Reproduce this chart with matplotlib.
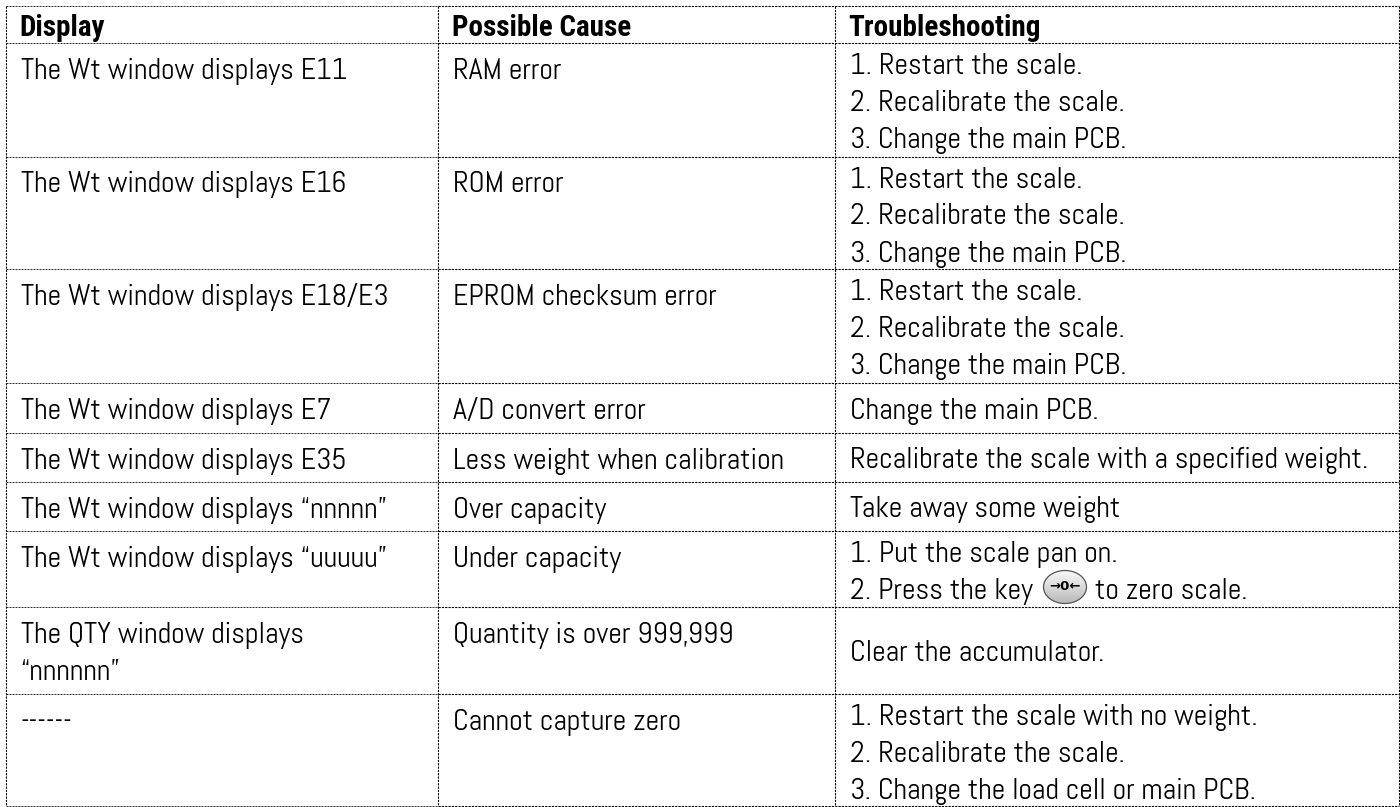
import numpy as np
import matplotlib
matplotlib.use("Agg")
import matplotlib.pyplot as plt
from matplotlib.patches import Ellipse

plt.rcParams['font.family'] = ['Abel', 'Lato', 'DejaVu Sans']

headers = ["Display", "Possible Cause", "Troubleshooting"]

display = [
    ["The Wt window displays E11"],
    ["The Wt window displays E16"],
    ["The Wt window displays E18/E3"],
    ["The Wt window displays E7"],
    ["The Wt window displays E35"],
    ["The Wt window displays “nnnnn”"],
    ["The Wt window displays “uuuuu”"],
    ["The QTY window displays", "“nnnnnn”"],
    ["------"],
]
causes = [
    "RAM error",
    "ROM error",
    "EPROM checksum error",
    "A/D convert error",
    "Less weight when calibration",
    "Over capacity",
    "Under capacity",
    "Quantity is over 999,999",
    "Cannot capture zero",
]
fixes = [
    ["1. Restart the scale.", "2. Recalibrate the scale.", "3. Change the main PCB."],
    ["1. Restart the scale.", "2. Recalibrate the scale.", "3. Change the main PCB."],
    ["1. Restart the scale.", "2. Recalibrate the scale.", "3. Change the main PCB."],
    ["Change the main PCB."],
    ["Recalibrate the scale with a specified weight."],
    ["Take away some weight"],
    ["1. Put the scale pan on.", "2. Press the key"],
    ["Clear the accumulator."],
    ["1. Restart the scale with no weight.", "2. Recalibrate the scale.", "3. Change the load cell or main PCB."],
]

# pixel layout of the grid
col_x = [6, 437.5, 835, 1398.5]
row_y = [5.5, 43, 156.5, 269, 382.7, 433, 481.7, 530.7, 607, 693.7, 806]
text_x = [21, 453, 850]
line_h = 37
font_pt = 21.5
ink = '#000000'

fig = plt.figure(figsize=(14, 8.07), dpi=100)
ax = fig.add_axes([0, 0, 1, 1])
ax.set_xlim(0, 1400)
ax.set_ylim(807, 0)
ax.axis('off')

dots = (0, (2, 1))
for y in row_y:
    ax.plot([col_x[0], col_x[1]], [y, y], color='#333333', lw=0.72, ls=dots, dash_capstyle='butt')
    ax.plot([col_x[1], col_x[3]], [y, y], color='black', lw=0.8, ls=dots, dash_capstyle='butt')
for x in col_x:
    ax.plot([x, x], [row_y[0], row_y[-1]], color='black', lw=0.8, ls=dots, dash_capstyle='butt')

for x, h in zip(text_x, headers):
    ax.text(x - 1.5, 35.5, h, fontsize=21, fontweight='bold', va='baseline',
            family=['Roboto Condensed', 'Roboto', 'DejaVu Sans'])


def put_lines(x, first, lines):
    for i, line in enumerate(lines):
        ax.text(x, first + i * line_h, line, fontsize=font_pt, va='baseline', color=ink)


for i in range(len(causes)):
    top = row_y[i + 1]
    bottom = row_y[i + 2]
    put_lines(text_x[0], top + 36, display[i])
    put_lines(text_x[1], top + 36, [causes[i]])
    if len(fixes[i]) > 1:
        put_lines(text_x[2], top + 31, fixes[i])
    else:
        put_lines(text_x[2], (top + bottom) / 2 + 11, fixes[i])

# zero key icon inside the "Press the key" line
ax.text(1095, 598.7, "to zero scale.", fontsize=font_pt, va='baseline', color=ink)
grad = np.linspace(0.98, 0.72, 64).reshape(-1, 1)
im = ax.imshow(grad, extent=[1043, 1087, 604, 570], cmap='gray', vmin=0, vmax=1, aspect='auto', zorder=2)
key = Ellipse((1065, 587), 43, 33, facecolor='none', edgecolor='#555555', lw=0.9, zorder=3)
ax.add_patch(key)
im.set_clip_path(key)
ax.set_xlim(0, 1400)
ax.set_ylim(807, 0)
ax.text(1065, 586, "→0←", fontsize=9.5, fontweight='bold', ha='center', va='center', zorder=4,
        family=['DejaVu Sans'])

fig.savefig("out.png", dpi=100)
